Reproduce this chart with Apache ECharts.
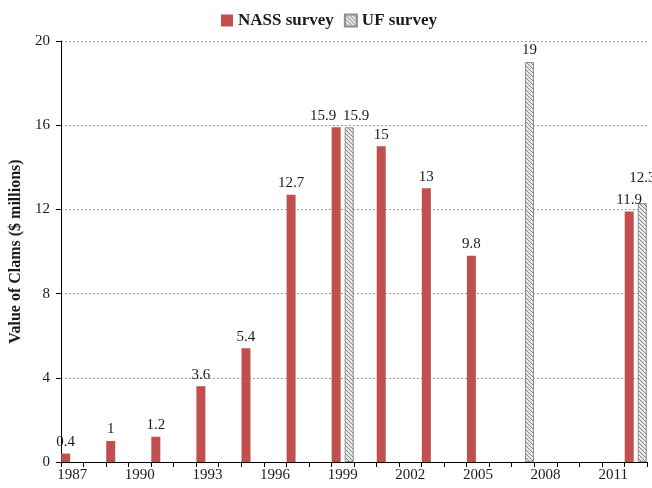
<!DOCTYPE html>
<html>
<head>
<meta charset="utf-8">
<script src="https://cdn.jsdelivr.net/npm/echarts@6/dist/echarts.min.js"></script>
<style>
  html, body { margin: 0; padding: 0; background: #fff; }
  #chart { width: 652px; height: 488px; }
</style>
</head>
<body>
<div id="chart"></div>
<script>
// one category per year, labels shown every 3rd year
const years = ['1987', '1988', '1989', '1990', '1991', '1992', '1993', '1994', '1995',
  '1996', '1997', '1998', '1999', '2000', '2001', '2002', '2003', '2004', '2005',
  '2006', '2007', '2008', '2009', '2010', '2011', '2012']
const nassValues = [0.4, null, 1, null, 1.2, null, 3.6, null, 5.4, null, 12.7, null,
  15.9, null, 15, null, 13, null, 9.8, null, null, null, null, null, null, 11.9]
const ufValues = [null, null, null, null, null, null, null, null, null, null, null, null,
  15.9, null, null, null, null, null, null, null, 19, null, null, null, null, 12.3]
const yTicks = [0, 4, 8, 12, 16, 20]

const FONT = '"Liberation Serif", "DejaVu Serif", serif'

// diagonal hatch used for the UF survey bars
function makeHatch() {
  const c = document.createElement('canvas')
  c.width = 4
  c.height = 4
  const ctx = c.getContext('2d')
  const img = ctx.createImageData(4, 4)
  for (let y = 0; y < 4; y++) {
    for (let x = 0; x < 4; x++) {
      const i = (y * 4 + x) * 4
      const v = (x - y + 4) % 4 === 0 ? 130 : 232
      img.data[i] = v
      img.data[i + 1] = v
      img.data[i + 2] = v
      img.data[i + 3] = 255
    }
  }
  ctx.putImageData(img, 0, 0)
  return c
}
const hatch = { image: makeHatch(), repeat: 'repeat' }

const labelStyle = {
  show: true,
  position: 'top',
  distance: 4,
  fontFamily: FONT,
  fontSize: 15,
  color: '#1a1a1a',
  formatter: p => (p.value == null ? '' : String(p.value))
}

// labels nudged apart where the two bars sit side by side
const nassOffsets = { 12: [-13, 0] }
const ufOffsets = { 12: [7, 0], 25: [0, -14] }
const withOffsets = (values, offsets) => values.map((v, i) =>
  offsets[i] ? { value: v, label: { offset: offsets[i] } } : v)

const chart = echarts.init(document.getElementById('chart'))
chart.setOption({
  animation: false,
  textStyle: { fontFamily: FONT },
  legend: {
    top: 7,
    left: 216,
    itemWidth: 12,
    itemHeight: 12,
    itemGap: 10,
    icon: 'rect',
    textStyle: { fontFamily: FONT, fontSize: 17, fontWeight: 'bold', color: '#1a1a1a' },
    data: ['NASS survey', 'UF survey']
  },
  grid: {
    left: 53,
    right: 5,
    top: 41,
    bottom: 26,
    containLabel: false
  },
  xAxis: {
    type: 'category',
    data: years,
    boundaryGap: true,
    axisLine: { lineStyle: { color: '#000', width: 1 } },
    axisTick: { show: true, interval: 0, length: 5, lineStyle: { color: '#000' } },
    axisLabel: {
      interval: 2,
      margin: 6,
      fontFamily: FONT,
      fontSize: 15,
      color: '#1a1a1a'
    },
    splitLine: { show: false }
  },
  yAxis: {
    type: 'value',
    min: yTicks[0],
    max: yTicks[yTicks.length - 1],
    interval: 4,
    name: 'Value of Clams ($ millions)',
    nameLocation: 'middle',
    nameGap: 31,
    nameTextStyle: { fontFamily: FONT, fontSize: 16, fontWeight: 'bold', color: '#1a1a1a' },
    axisLine: { show: true, lineStyle: { color: '#000', width: 1 } },
    axisTick: { show: true, length: 5, lineStyle: { color: '#000' } },
    axisLabel: { margin: 11, fontFamily: FONT, fontSize: 15, color: '#1a1a1a' },
    splitLine: { show: true, lineStyle: { color: '#999', type: [2, 2], width: 1 } }
  },
  series: [
    {
      name: 'NASS survey',
      type: 'bar',
      data: withOffsets(nassValues, nassOffsets),
      barWidth: 9,
      barGap: '45%',
      itemStyle: { color: '#c0504d' },
      label: labelStyle
    },
    {
      name: 'UF survey',
      type: 'bar',
      data: withOffsets(ufValues, ufOffsets),
      barWidth: 9,
      itemStyle: { color: hatch, borderColor: '#8c8c8c', borderWidth: 1 },
      label: labelStyle
    }
  ]
})
</script>
</body>
</html>
